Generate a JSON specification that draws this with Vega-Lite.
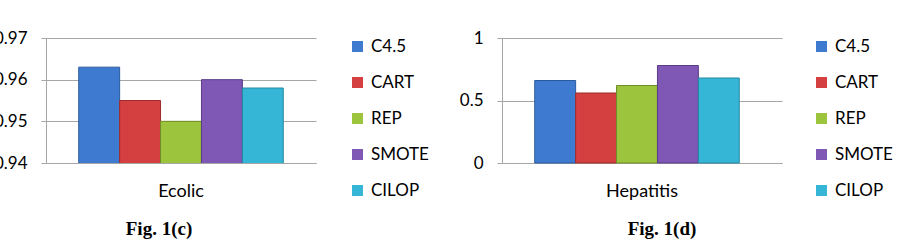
{
  "$schema": "https://vega.github.io/schema/vega-lite/v6.json",
  "padding": {"left": -7, "top": 29, "right": 0, "bottom": 0},
  "background": "white",
  "data": {"values": [
    {"dataset": "Ecolic", "method": "C4.5", "value": 0.963},
    {"dataset": "Ecolic", "method": "CART", "value": 0.955},
    {"dataset": "Ecolic", "method": "REP", "value": 0.950},
    {"dataset": "Ecolic", "method": "SMOTE", "value": 0.960},
    {"dataset": "Ecolic", "method": "CILOP", "value": 0.958},
    {"dataset": "Hepatitis", "method": "C4.5", "value": 0.66},
    {"dataset": "Hepatitis", "method": "CART", "value": 0.56},
    {"dataset": "Hepatitis", "method": "REP", "value": 0.62},
    {"dataset": "Hepatitis", "method": "SMOTE", "value": 0.78},
    {"dataset": "Hepatitis", "method": "CILOP", "value": 0.68}
  ]},
  "config": {
    "font": "Lato",
    "view": {"stroke": null},
    "concat": {"spacing": 30},
    "axis": {"labelColor": "black", "domainColor": "#A6A6A6", "gridColor": "#A6A6A6", "tickColor": "#A6A6A6", "labelFont": "Lato"},
    "legend": {"labelColor": "black", "labelFont": "Lato"}
  },
  "hconcat": [
    {
      "width": 270,
      "height": 125,
      "transform": [{"filter": "datum.dataset === 'Ecolic'"}],
      "title": {"text": "Fig. 1(c)", "orient": "bottom", "font": "Liberation Serif", "fontSize": 19, "fontWeight": "bold", "anchor": "middle", "frame": "group", "dx": -22, "offset": 20, "color": "black"},
      "mark": {"type": "bar", "strokeWidth": 1, "clip": true},
      "encoding": {
        "x": {"field": "dataset", "type": "nominal", "scale": {"paddingInner": 0, "paddingOuter": 0},
              "axis": {"title": null, "labelAngle": 0, "labelFontSize": 18, "labelPadding": 19, "ticks": false}},
        "xOffset": {"field": "method", "type": "nominal", "sort": ["C4.5", "CART", "REP", "SMOTE", "CILOP"],
                    "scale": {"paddingInner": 0, "paddingOuter": 0.8}},
        "y": {"field": "value", "type": "quantitative", "scale": {"domain": [0.94, 0.97], "zero": false, "nice": false},
              "axis": {"title": null, "values": [0.94, 0.95, 0.96, 0.97], "format": ".2f", "labelFontSize": 17, "tickSize": 5, "labelPadding": 14, "grid": true}},
        "color": {"field": "method", "type": "nominal",
                  "scale": {"domain": ["C4.5", "CART", "REP", "SMOTE", "CILOP"], "range": ["#3E7BD0", "#D43F3F", "#9CC43C", "#7F57B5", "#35B6D6"]},
                  "legend": {"title": null, "orient": "right", "offset": 33, "labelFontSize": 17, "symbolType": "square", "symbolSize": 121, "rowPadding": 18, "labelOffset": 5, "padding": 0, "symbolStrokeWidth": 0}},
        "stroke": {"field": "method", "type": "nominal",
                   "scale": {"domain": ["C4.5", "CART", "REP", "SMOTE", "CILOP"], "range": ["#2A5A9E", "#9E2C2C", "#6F8E28", "#5A3C86", "#2687A0"]},
                   "legend": null}
      }
    },
    {
      "width": 280,
      "height": 125,
      "transform": [{"filter": "datum.dataset === 'Hepatitis'"}],
      "title": {"text": "Fig. 1(d)", "orient": "bottom", "font": "Liberation Serif", "fontSize": 19, "fontWeight": "bold", "anchor": "middle", "frame": "group", "dx": 20, "offset": 20, "color": "black"},
      "mark": {"type": "bar", "strokeWidth": 1},
      "encoding": {
        "x": {"field": "dataset", "type": "nominal", "scale": {"paddingInner": 0, "paddingOuter": 0},
              "axis": {"title": null, "labelAngle": 0, "labelFontSize": 18, "labelPadding": 19, "ticks": false}},
        "xOffset": {"field": "method", "type": "nominal", "sort": ["C4.5", "CART", "REP", "SMOTE", "CILOP"],
                    "scale": {"paddingInner": 0, "paddingOuter": 0.8}},
        "y": {"field": "value", "type": "quantitative", "scale": {"domain": [0, 1], "nice": false},
              "axis": {"title": null, "values": [0, 0.5, 1], "format": "~g", "labelFontSize": 17, "tickSize": 5, "labelPadding": 14, "grid": true}},
        "color": {"field": "method", "type": "nominal",
                  "scale": {"domain": ["C4.5", "CART", "REP", "SMOTE", "CILOP"], "range": ["#3E7BD0", "#D43F3F", "#9CC43C", "#7F57B5", "#35B6D6"]},
                  "legend": {"title": null, "orient": "right", "offset": 31, "labelFontSize": 17, "symbolType": "square", "symbolSize": 121, "rowPadding": 18, "labelOffset": 5, "padding": 0, "symbolStrokeWidth": 0}},
        "stroke": {"field": "method", "type": "nominal",
                   "scale": {"domain": ["C4.5", "CART", "REP", "SMOTE", "CILOP"], "range": ["#2A5A9E", "#9E2C2C", "#6F8E28", "#5A3C86", "#2687A0"]},
                   "legend": null}
      }
    }
  ],
  "resolve": {"scale": {"y": "independent", "x": "independent", "color": "shared"}, "legend": {"color": "independent"}}
}
